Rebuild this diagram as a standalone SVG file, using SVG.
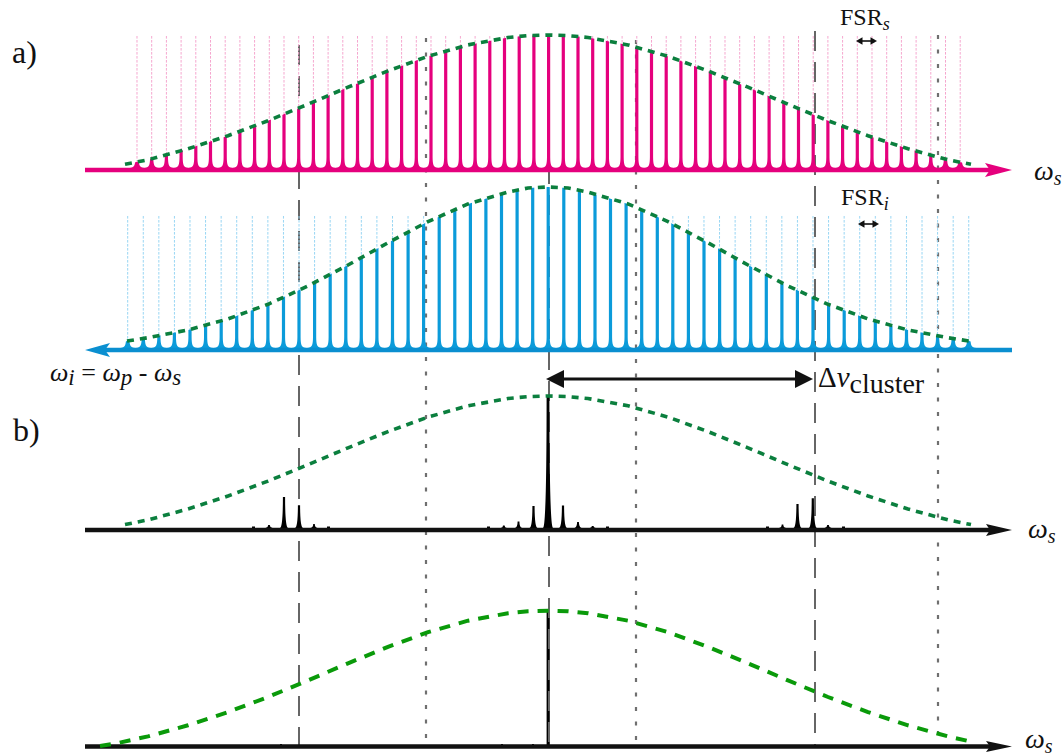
<svg xmlns="http://www.w3.org/2000/svg" width="1064" height="755" viewBox="0 0 1064 755">
<style>
.gd{stroke:#666;stroke-width:2;stroke-dasharray:20 11;fill:none}
.gt{stroke:#6f6f6f;stroke-width:2.2;stroke-dasharray:4 10.5;fill:none}
.env{fill:none;stroke:#0B7F3E;stroke-width:3.6;stroke-dasharray:7 6}
.env2{fill:none;stroke:#0A9A0A;stroke-width:4;stroke-dasharray:11 9}
.lbl{font-family:"Liberation Serif",serif;fill:#111}
.pk{fill:#E5007D}
.bk{fill:#0B9BDA}
</style>
<defs>
<path id="pkP" d="M-7.5,0 C-2.5,-0.3 -1.7,-3 -1.6,-11 V-170 H1.6 V-11 C1.7,-3 2.5,-0.3 7.5,0 Z"/>
<pattern id="pf" x="136.5" y="0" width="14.7" height="4" patternUnits="userSpaceOnUse"><rect x="0" y="0" width="1" height="2.6" fill="#F5A6CE"/></pattern>
<pattern id="bf" x="127.2" y="0" width="15.575" height="4" patternUnits="userSpaceOnUse"><rect x="0" y="0" width="1" height="2.6" fill="#97D5F3"/></pattern>
<clipPath id="cP"><polygon points="95,172 110,168 125,164.3 148,159.8 188,148.8 228,135.7 268,120.7 308,104.2 348,87.2 388,70.9 428,56.3 468,44.9 508,37.5 528,35.6 548,35 568,35.6 588,37.5 628,44.9 668,56.3 708,70.9 748,87.2 788,104.2 828,120.7 868,135.7 908,148.8 948,159.8 971,164.3 990,168 990,172"/></clipPath>
<clipPath id="cB"><polygon points="95,352 110,346 127,341 148,337.7 188,330 228,318.9 268,304.3 308,286 348,265 388,242.8 428,221.6 468,203.9 508,192.1 528,188 548,187 568,188 588,192.1 628,203.9 668,221.6 708,242.8 748,265 788,286 828,304.3 868,318.9 908,330 948,337.7 969,341 990,346 990,352"/></clipPath>
</defs>

<g id="bottom-spike">
<rect x="546.6" y="611" width="3.2" height="135" fill="#000"/>
<rect x="501" y="744" width="2" height="2" fill="#000"/>
<rect x="532" y="744" width="2" height="2" fill="#000"/>
<rect x="280" y="744" width="2" height="2" fill="#000"/>
</g>

<g id="guides">
<path class="gd" d="M299,45 V746"/>
<path class="gd" d="M549,40 V746"/>
<path class="gd" d="M815,31 V746"/>
<path class="gt" d="M426,38 V746"/>
<path class="gt" d="M636,40 V746"/>
<path class="gt" d="M938,35 V746"/>
</g>

<g id="signal-comb">
<rect x="131" y="35" width="835" height="133" fill="url(#pf)"/>
<g class="pk" clip-path="url(#cP)">
<use href="#pkP" x="137" y="168"/><use href="#pkP" x="151.7" y="168"/><use href="#pkP" x="166.4" y="168"/><use href="#pkP" x="181.1" y="168"/><use href="#pkP" x="195.8" y="168"/><use href="#pkP" x="210.5" y="168"/><use href="#pkP" x="225.2" y="168"/><use href="#pkP" x="239.9" y="168"/><use href="#pkP" x="254.6" y="168"/><use href="#pkP" x="269.3" y="168"/>
<use href="#pkP" x="284" y="168"/><use href="#pkP" x="298.7" y="168"/><use href="#pkP" x="313.4" y="168"/><use href="#pkP" x="328.1" y="168"/><use href="#pkP" x="342.8" y="168"/><use href="#pkP" x="357.5" y="168"/><use href="#pkP" x="372.2" y="168"/><use href="#pkP" x="386.9" y="168"/><use href="#pkP" x="401.6" y="168"/><use href="#pkP" x="416.3" y="168"/>
<use href="#pkP" x="431" y="168"/><use href="#pkP" x="445.7" y="168"/><use href="#pkP" x="460.4" y="168"/><use href="#pkP" x="475.1" y="168"/><use href="#pkP" x="489.8" y="168"/><use href="#pkP" x="504.5" y="168"/><use href="#pkP" x="519.2" y="168"/><use href="#pkP" x="533.9" y="168"/><use href="#pkP" x="548.6" y="168"/><use href="#pkP" x="563.3" y="168"/>
<use href="#pkP" x="578" y="168"/><use href="#pkP" x="592.7" y="168"/><use href="#pkP" x="607.4" y="168"/><use href="#pkP" x="622.1" y="168"/><use href="#pkP" x="636.8" y="168"/><use href="#pkP" x="651.5" y="168"/><use href="#pkP" x="666.2" y="168"/><use href="#pkP" x="680.9" y="168"/><use href="#pkP" x="695.6" y="168"/><use href="#pkP" x="710.3" y="168"/>
<use href="#pkP" x="725" y="168"/><use href="#pkP" x="739.7" y="168"/><use href="#pkP" x="754.4" y="168"/><use href="#pkP" x="769.1" y="168"/><use href="#pkP" x="783.8" y="168"/><use href="#pkP" x="798.5" y="168"/><use href="#pkP" x="813.2" y="168"/><use href="#pkP" x="827.9" y="168"/><use href="#pkP" x="842.6" y="168"/><use href="#pkP" x="857.3" y="168"/>
<use href="#pkP" x="872" y="168"/><use href="#pkP" x="886.7" y="168"/><use href="#pkP" x="901.4" y="168"/><use href="#pkP" x="916.1" y="168"/><use href="#pkP" x="930.8" y="168"/><use href="#pkP" x="945.5" y="168"/><use href="#pkP" x="960.2" y="168"/>
</g>
<path d="M85,170 H992" stroke="#E5007D" stroke-width="4.5" fill="none"/>
<polygon points="985,163 1012,170 985,177 990,170" fill="#E5007D"/>
</g>

<g id="idler-comb">
<rect x="122" y="215" width="852" height="133" fill="url(#bf)"/>
<g class="bk" clip-path="url(#cB)">
<use href="#pkP" x="127.7" y="348"/><use href="#pkP" x="143.3" y="348"/><use href="#pkP" x="158.9" y="348"/><use href="#pkP" x="174.4" y="348"/><use href="#pkP" x="190" y="348"/><use href="#pkP" x="205.6" y="348"/><use href="#pkP" x="221.2" y="348"/><use href="#pkP" x="236.7" y="348"/><use href="#pkP" x="252.3" y="348"/><use href="#pkP" x="267.9" y="348"/>
<use href="#pkP" x="283.5" y="348"/><use href="#pkP" x="299" y="348"/><use href="#pkP" x="314.6" y="348"/><use href="#pkP" x="330.2" y="348"/><use href="#pkP" x="345.8" y="348"/><use href="#pkP" x="361.3" y="348"/><use href="#pkP" x="376.9" y="348"/><use href="#pkP" x="392.5" y="348"/><use href="#pkP" x="408.1" y="348"/><use href="#pkP" x="423.6" y="348"/>
<use href="#pkP" x="439.2" y="348"/><use href="#pkP" x="454.8" y="348"/><use href="#pkP" x="470.4" y="348"/><use href="#pkP" x="485.9" y="348"/><use href="#pkP" x="501.5" y="348"/><use href="#pkP" x="517.1" y="348"/><use href="#pkP" x="532.7" y="348"/><use href="#pkP" x="548.2" y="348"/><use href="#pkP" x="563.8" y="348"/><use href="#pkP" x="579.4" y="348"/>
<use href="#pkP" x="595" y="348"/><use href="#pkP" x="610.5" y="348"/><use href="#pkP" x="626.1" y="348"/><use href="#pkP" x="641.7" y="348"/><use href="#pkP" x="657.3" y="348"/><use href="#pkP" x="672.8" y="348"/><use href="#pkP" x="688.4" y="348"/><use href="#pkP" x="704" y="348"/><use href="#pkP" x="719.6" y="348"/><use href="#pkP" x="735.1" y="348"/>
<use href="#pkP" x="750.7" y="348"/><use href="#pkP" x="766.3" y="348"/><use href="#pkP" x="781.9" y="348"/><use href="#pkP" x="797.4" y="348"/><use href="#pkP" x="813" y="348"/><use href="#pkP" x="828.6" y="348"/><use href="#pkP" x="844.2" y="348"/><use href="#pkP" x="859.7" y="348"/><use href="#pkP" x="875.3" y="348"/><use href="#pkP" x="890.9" y="348"/>
<use href="#pkP" x="906.5" y="348"/><use href="#pkP" x="922" y="348"/><use href="#pkP" x="937.6" y="348"/><use href="#pkP" x="953.2" y="348"/><use href="#pkP" x="968.8" y="348"/>
</g>
<path d="M100,350 H1012" stroke="#0A8FD0" stroke-width="4.5" fill="none"/>
<polygon points="85,350 110,343 105,350 110,357" fill="#0A8FD0"/>
</g>

<g id="panel-b">
<g fill="#000">
<path d="M543,528 Q546.6,527 546.6,395 L549.4,395 Q549.4,527 553,528 Z"/>
<path d="M529.5,528 Q532.4,527 532.4,506 L534.6,506 Q534.6,527 537.5,528 Z"/>
<path d="M559,528 Q561.9,527 561.9,505.5 L564.1,505.5 Q564.1,527 567,528 Z"/>
<path d="M515,528 Q517.6,527 517.6,521.5 L519.4,521.5 Q519.4,527 522,528 Z"/>
<path d="M574.5,528 Q577.1,527 577.1,522 L578.9,522 Q578.9,527 581.5,528 Z"/>
<path d="M500.8,528 Q503,527.5 503,525.5 L504.6,525.5 Q504.6,527.5 506.8,528 Z"/>
<path d="M589.7,528 Q591.9,527.5 591.9,526 L593.5,526 Q593.5,527.5 595.7,528 Z"/>
<path d="M280,528 Q282.9,527 282.9,497 L285.1,497 Q285.1,527 288,528 Z"/>
<path d="M295,528 Q297.9,527 297.9,505.3 L300.1,505.3 Q300.1,527 303,528 Z"/>
<path d="M265.5,528 Q268.2,527.5 268.2,525 L269.8,525 Q269.8,527.5 272.5,528 Z"/>
<path d="M310.5,528 Q313.2,527.5 313.2,524 L314.8,524 Q314.8,527.5 317.5,528 Z"/>
<path d="M793.5,528 Q796.4,527 796.4,504 L798.6,504 Q798.6,527 801.5,528 Z"/>
<path d="M808.8,528 Q811.7,527 811.7,498.3 L813.9,498.3 Q813.9,527 816.8,528 Z"/>
<path d="M779,528 Q781.7,527.5 781.7,524.5 L783.3,524.5 Q783.3,527.5 786,528 Z"/>
<path d="M824.5,528 Q827.2,527.5 827.2,525 L828.8,525 Q828.8,527.5 831.5,528 Z"/>
<rect x="252" y="526.5" width="3" height="2"/><rect x="327" y="526.5" width="3" height="2"/>
<rect x="487" y="526.5" width="3" height="2"/><rect x="606" y="526.5" width="3" height="2"/>
<rect x="766" y="526.5" width="3" height="2"/><rect x="842" y="526.5" width="3" height="2"/>
</g>
<path d="M85,530 H992" stroke="#111" stroke-width="4.5" fill="none"/>
<polygon points="986,524 1012,530 986,536 990,530" fill="#111"/>
</g>

<g id="panel-c">
<path d="M85,746.5 H992" stroke="#111" stroke-width="4.5" fill="none"/>
<polygon points="986,741 1012,746.5 986,752 990,746.5" fill="#111"/>
</g>

<g id="envelopes">
<polyline class="env" points="125,164.3 148,159.8 188,148.8 228,135.7 268,120.7 308,104.2 348,87.2 388,70.9 428,56.3 468,44.9 508,37.5 528,35.6 548,35 568,35.6 588,37.5 628,44.9 668,56.3 708,70.9 748,87.2 788,104.2 828,120.7 868,135.7 908,148.8 948,159.8 971,164.3"/>
<polyline class="env" points="127,341 148,337.7 188,330 228,318.9 268,304.3 308,286 348,265 388,242.8 428,221.6 468,203.9 508,192.1 528,188 548,187 568,188 588,192.1 628,203.9 668,221.6 708,242.8 748,265 788,286 828,304.3 868,318.9 908,330 948,337.7 969,341"/>
<polyline class="env" points="125,524.6 148,519.9 188,509 228,496 268,481.1 308,464.7 348,447.8 388,431.6 428,417.1 468,405.8 508,398.5 528,396.6 548,396 568,396.6 588,398.5 628,405.8 668,417.1 708,431.6 748,447.8 788,464.7 828,481.1 868,496 908,509 948,519.9 971,524.6"/>
<polyline class="env2" points="100,746 118,743 148,736.4 188,725.3 228,712.1 268,697 308,680.4 348,663.3 388,646.9 428,632.2 468,620.7 508,613.2 528,611.3 548,610.7 568,611.3 588,613.2 628,620.7 668,632.2 708,646.9 748,663.3 788,680.4 828,697 868,712.1 908,725.3 948,736.4 975,742.5"/>
</g>

<g id="annotations">
<path d="M562,379 H797" stroke="#111" stroke-width="3" fill="none"/>
<polygon points="546,379 564,370 564,388" fill="#111"/>
<polygon points="813,379 795,370 795,388" fill="#111"/>
<path d="M860,41 H873" stroke="#111" stroke-width="1.6"/>
<polygon points="856,41 862.5,37.3 862.5,44.7" fill="#111"/>
<polygon points="877,41 870.5,37.3 870.5,44.7" fill="#111"/>
<path d="M862,224 H875" stroke="#111" stroke-width="1.6"/>
<polygon points="858,224 864.5,220.3 864.5,227.7" fill="#111"/>
<polygon points="879,224 872.5,220.3 872.5,227.7" fill="#111"/>
</g>

<g id="labels" class="lbl">
<text x="12" y="63" font-size="32">a)</text>
<text x="13" y="441" font-size="32">b)</text>
<text x="840" y="25" font-size="24">FSR<tspan font-style="italic" font-size="18" dy="5">s</tspan></text>
<text x="841" y="205" font-size="24">FSR<tspan font-style="italic" font-size="18" dy="5">i</tspan></text>
<text x="1034" y="180" font-size="28" font-style="italic">ω<tspan font-size="20" dy="5">s</tspan></text>
<text x="1028" y="538" font-size="28" font-style="italic">ω<tspan font-size="20" dy="5">s</tspan></text>
<text x="1025" y="748" font-size="28" font-style="italic">ω<tspan font-size="20" dy="5">s</tspan></text>
<text x="50" y="381" font-size="26"><tspan font-style="italic">ω</tspan><tspan font-style="italic" font-size="23" dy="4">i</tspan><tspan dy="-4"> = </tspan><tspan font-style="italic">ω</tspan><tspan font-style="italic" font-size="23" dy="4">p</tspan><tspan dy="-4"> - </tspan><tspan font-style="italic">ω</tspan><tspan font-style="italic" font-size="23" dy="4">s</tspan></text>
<text x="818" y="387" font-size="29">Δ<tspan font-style="italic">ν</tspan><tspan dy="6" font-size="28">cluster</tspan></text>
</g>
</svg>
